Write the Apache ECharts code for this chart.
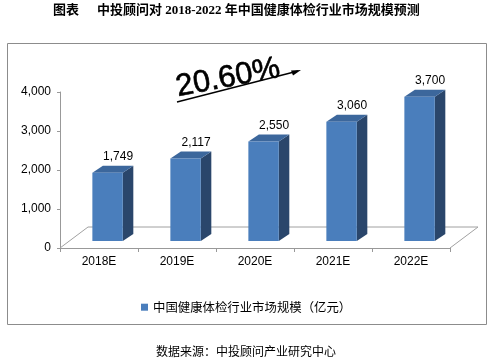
<!DOCTYPE html>
<html><head><meta charset="utf-8">
<script src="https://cdn.jsdelivr.net/npm/echarts@6/dist/echarts.min.js"></script>
<style>html,body{margin:0;padding:0;background:#fff}#c{width:500px;height:361px}</style>
</head><body><div id="c"></div>
<script>
const categories = ['2018E', '2019E', '2020E', '2021E', '2022E'];
const marketSize = [1749, 2117, 2550, 3060, 3700];
const seriesName = '中国健康体检行业市场规模（亿元）';
const yTicks = [0, 1000, 2000, 3000, 4000];
const growthLabel = '20.60%';

const FONT = 'Arial, "Liberation Sans", "Noto Sans CJK SC", sans-serif';
const CJK = '"Noto Sans CJK SC", sans-serif';

const chart = echarts.init(document.getElementById('c'), null, {renderer: 'canvas'});

function fmt(v) { return v.toLocaleString('en-US'); }

function renderBar(params, api) {
  const idx = api.value(0), val = api.value(1);
  const top = api.coord([idx, val]);
  const base = api.coord([idx, 0]);
  const band = api.size([1, 0])[0];
  const fw = band * 0.39, off = band * 0.11, dx = band * 0.135, dy = -7, lift = -7;
  const x0 = top[0] + off - fw / 2, x1 = x0 + fw;
  const yt = top[1] + lift, yb = base[1] + lift;
  return {
    type: 'group',
    children: [
      {type: 'polygon', shape: {points: [[x1, yt], [x1 + dx, yt + dy], [x1 + dx, yb + dy], [x1, yb]]}, style: {fill: '#2a466b'}},
      {type: 'polygon', shape: {points: [[x0, yt], [x1, yt], [x1 + dx, yt + dy], [x0 + dx, yt + dy]]}, style: {fill: '#3c679c'}},
      {type: 'rect', shape: {x: x0, y: yt, width: fw, height: yb - yt}, style: {fill: '#4a7ebc'}},
      {type: 'text', style: {text: fmt(val), x: (x0 + x1) / 2 + dx, y: yt + dy - 3, align: 'center', verticalAlign: 'bottom', font: '12px ' + FONT, fill: '#000'}}
    ]
  };
}

function renderFloor(params, api) {
  const cs = params.coordSys;
  const fx = 28, fy = -21;
  const x0 = cs.x, x1 = cs.x + cs.width, y0 = cs.y + cs.height;
  return {
    type: 'polyline',
    shape: {points: [[x0, y0], [x0 + fx, y0 + fy], [x1 + fx, y0 + fy], [x1, y0]]},
    style: {stroke: '#a0a0a0', lineWidth: 1, fill: null},
    silent: true
  };
}

chart.setOption({
  animation: false,
  grid: {left: 60, right: 50, top: 92, bottom: 113},
  legend: {
    data: [seriesName], left: 136, top: 296, icon: 'rect', itemWidth: 7, itemHeight: 7, itemGap: 5,
    textStyle: {fontSize: 12.4, fontFamily: CJK, color: '#000'}
  },
  xAxis: {
    type: 'category', data: categories,
    axisLine: {lineStyle: {color: '#999'}},
    axisTick: {show: true, length: 4, lineStyle: {color: '#999'}},
    axisLabel: {fontSize: 12, fontFamily: FONT, color: '#000', margin: 8}
  },
  yAxis: {
    type: 'value', min: yTicks[0], max: yTicks[yTicks.length - 1], interval: 1000,
    axisLine: {show: true, lineStyle: {color: '#999'}},
    axisTick: {show: true, length: 3, lineStyle: {color: '#999'}},
    splitLine: {show: false},
    axisLabel: {fontSize: 12, fontFamily: FONT, color: '#000', margin: 9, formatter: fmt}
  },
  series: [
    {type: 'custom', name: 'floor', renderItem: renderFloor, data: [[0, 0]], silent: true, z: 1},
    {type: 'custom', name: seriesName, renderItem: renderBar, itemStyle: {color: '#4a7ebc'},
     data: categories.map((c, i) => [i, marketSize[i]]), z: 2}
  ],
  graphic: [
    {type: 'rect', shape: {x: 7.5, y: 43.5, width: 479, height: 281}, style: {fill: null, stroke: '#8c8c8c', lineWidth: 1}, z: -1},
    {type: 'text', x: 53, y: 11, style: {text: '图表', font: 'bold 13px "Liberation Serif", "Noto Sans CJK SC", serif', fill: '#000', verticalAlign: 'middle'}},
    {type: 'text', x: 97, y: 11, style: {text: '中投顾问对 2018-2022 年中国健康体检行业市场规模预测', font: 'bold 13px "Liberation Serif", "Noto Sans CJK SC", serif', fill: '#000', verticalAlign: 'middle'}},
    {type: 'text', x: 228, y: 78, rotation: 0.19, style: {text: growthLabel, font: '31px ' + FONT, fill: '#000', stroke: '#000', lineWidth: 0.6, align: 'center', verticalAlign: 'middle'}},
    {type: 'line', shape: {x1: 177, y1: 102, x2: 298, y2: 71}, style: {stroke: '#000', lineWidth: 1.3}},
    {type: 'polygon', shape: {points: [[301, 70], [291, 70.5], [293, 75.5]]}, style: {fill: '#000'}},
    {type: 'text', x: 246, y: 351, style: {text: '数据来源：中投顾问产业研究中心', font: '12px ' + CJK, fill: '#000', align: 'center', verticalAlign: 'middle'}}
  ]
});
</script></body></html>
